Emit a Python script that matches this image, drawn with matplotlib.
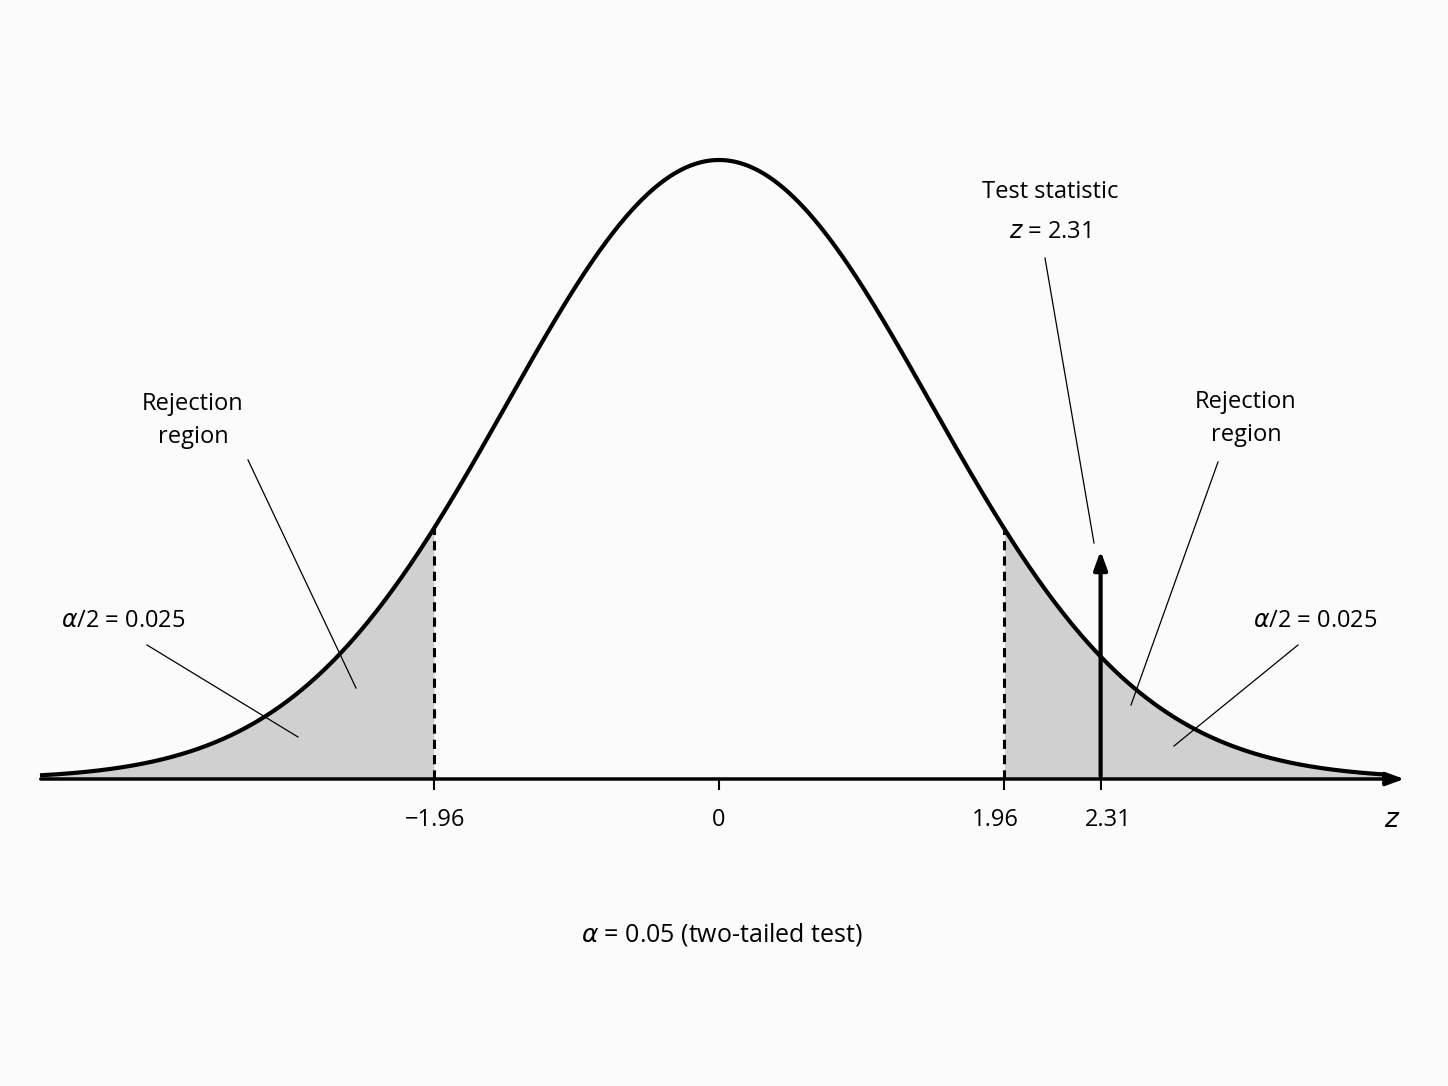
import numpy as np
import matplotlib
matplotlib.use("Agg")
import matplotlib.pyplot as plt

# Values (labels) and schematic drawing positions on the curve's scale
tick_labels = ["\u22121.96", "0", "1.96", "2.31"]
crit_value = 1.96
stat_value = 2.31
alpha = 0.05
# schematic positions on drawn curve (in sigma units of the drawn bell)
crit_pos = 1.342
stat_pos = 1.80
tick_pos = [-crit_pos, 0.0, crit_pos, stat_pos]

W, H = 1448, 1086
fig = plt.figure(figsize=(W/100, H/100), dpi=100, facecolor="#fbfbfb")
ax = fig.add_axes([0, 0, 1, 1])
ax.set_facecolor("#fbfbfb")
ax.axis("off")
# pixel mapping helpers
X0, S, Y0, HH = 719, 212, 779, 619
def px(x): return (x - X0) / S
def py(y): return (Y0 - y) / HH
ax.set_xlim(px(0), px(W)); ax.set_ylim(py(H), py(0))

u = np.linspace(px(40), px(1385), 800)
f = np.exp(-u**2 / 2)
ax.fill_between(u, 0, f, where=u <= -crit_pos, color="#d0d0d0", lw=0)
ax.fill_between(u, 0, f, where=u >= crit_pos, color="#d0d0d0", lw=0)
ax.plot(u, f, color="black", lw=3, solid_capstyle="butt")
ax.annotate("", xy=(px(1407), 0), xytext=(px(38), 0),
            arrowprops=dict(arrowstyle="-|>,head_length=1.1,head_width=0.4", lw=2.5, color="black"))
for c in (-crit_pos, crit_pos):
    ax.plot([c, c], [0, np.exp(-c**2/2)], ls=(0, (3, 2)), color="black", lw=2.2)
ax.annotate("", xy=(stat_pos, py(548)), xytext=(stat_pos, 0),
            arrowprops=dict(arrowstyle="-|>,head_length=1.1,head_width=0.4", lw=3, color="black"))
for p in tick_pos:
    ax.plot([p, p], [0, py(789)], color="black", lw=1.5)

fam = ["Open Sans", "DejaVu Sans"]
fs = 17
label_px = [435, 719, 995, 1108]
for lab, xp in zip(tick_labels, label_px):
    ax.text(px(xp), py(820), lab, ha="center", va="center", fontsize=fs, family=fam)
ax.text(px(1392), py(820), "$z$", ha="center", va="center", fontsize=fs+2)

ax.text(px(193), py(420), "Rejection\nregion", ha="center", va="center", fontsize=fs, family=fam, linespacing=1.5)
ax.text(px(1246), py(418), "Rejection\nregion", ha="center", va="center", fontsize=fs, family=fam, linespacing=1.5)
ax.plot([px(248), px(356)], [py(460), py(688)], color="black", lw=0.9)
ax.plot([px(1218), px(1131)], [py(462), py(705)], color="black", lw=0.9)

ax.text(px(123), py(621), r"$\alpha$/2 = %.3f" % (alpha/2), ha="center", va="center", fontsize=fs, family=fam)
ax.text(px(1315), py(621), r"$\alpha$/2 = %.3f" % (alpha/2), ha="center", va="center", fontsize=fs, family=fam)
ax.plot([px(147), px(298)], [py(645), py(737)], color="black", lw=0.9)
ax.plot([px(1298), px(1174)], [py(645), py(746)], color="black", lw=0.9)

ax.text(px(1050), py(192), "Test statistic", ha="center", va="center", fontsize=fs, family=fam)
ax.text(px(1050), py(232), "$z$ = %.2f" % stat_value, ha="center", va="center", fontsize=fs, family=fam)
ax.plot([px(1045), px(1094)], [py(258), py(543)], color="black", lw=0.9)

ax.text(px(722), py(935), r"$\alpha$ = %.2f (two-tailed test)" % alpha, ha="center", va="center",
        fontsize=fs+1, family=fam)

fig.savefig("out.png", dpi=100, facecolor=fig.get_facecolor())
